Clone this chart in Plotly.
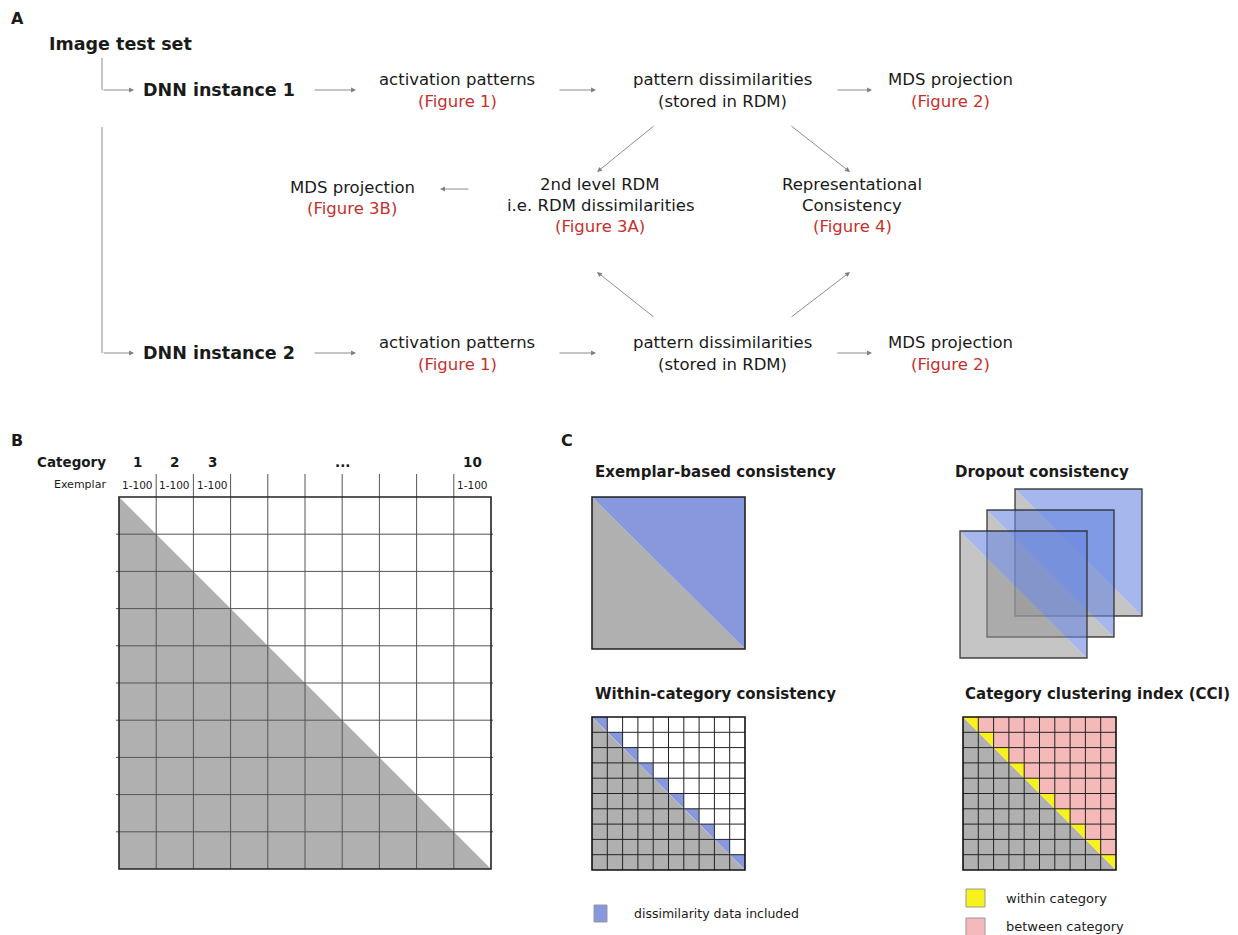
import plotly.graph_objects as go

# ---------------- data / labels ----------------
panel_letters = ["A", "B", "C"]
flow_black = ["activation patterns", "pattern dissimilarities", "MDS projection"]
flow_red = ["(Figure 1)", "(stored in RDM)", "(Figure 2)"]
dnn_labels = ["DNN instance 1", "DNN instance 2"]
mid_left_lines = ["MDS projection", "(Figure 3B)"]
mid_center_lines = ["2nd level RDM", "i.e. RDM dissimilarities", "(Figure 3A)"]
mid_right_lines = ["Representational", "Consistency", "(Figure 4)"]
category_labels = ["1", "2", "3", "...", "10"]
exemplar_labels = ["1-100", "1-100", "1-100", "1-100"]
n_categories = 10
c_titles = ["Exemplar-based consistency", "Dropout consistency",
            "Within-category consistency", "Category clustering index (CCI)"]
legend_labels = ["dissimilarity data included", "within category", "between category"]

# ---------------- styles ----------------
W, H = 1238, 935
BOLD = "DejaVu Sans"
REG = "DejaVu Sans"
RED = "#c4312b"
TXT = "#1a1a1a"
GRAY = "#b0b0b0"
BLUE = "#8799dc"
YELLOW = "#f7f21c"
PINK = "#f6b9b9"
ARROW = "#808080"
FS = 16.5

fig = go.Figure()
fig.add_trace(go.Scatter(x=[0, W], y=[0, H], mode="markers", marker=dict(opacity=0),
                         hoverinfo="skip", showlegend=False))

shapes = []
ann = []


def text(x, y, s, size=FS, color=TXT, bold=False, family=None, xanchor="center"):
    ann.append(dict(x=x, y=y, xref="x", yref="y", text=("<b>%s</b>" % s) if bold else s,
                    showarrow=False, xanchor=xanchor, yanchor="middle",
                    font=dict(size=size, color=color, family=family or (BOLD if bold else REG))))


def arrow(x0, y0, x1, y1):
    ann.append(dict(x=x1, y=y1, ax=x0, ay=y0, xref="x", yref="y", axref="x", ayref="y",
                    text="", showarrow=True, arrowhead=2, arrowsize=1.1, arrowwidth=0.9,
                    arrowcolor=ARROW, standoff=0, startstandoff=0))


def line(x0, y0, x1, y1, color="#444", width=1):
    shapes.append(dict(type="line", x0=x0, y0=y0, x1=x1, y1=y1, xref="x", yref="y",
                       line=dict(color=color, width=width)))


def poly(pts, fill, linecolor=None, width=0, opacity=1.0):
    path = "M " + " L ".join("%s,%s" % p for p in pts) + " Z"
    shapes.append(dict(type="path", path=path, xref="x", yref="y", fillcolor=fill, opacity=opacity,
                       line=dict(width=width, color=linecolor or "rgba(0,0,0,0)")))


def rect(x0, y0, x1, y1, fill="rgba(0,0,0,0)", linecolor="black", width=1.5):
    shapes.append(dict(type="rect", x0=x0, y0=y0, x1=x1, y1=y1, xref="x", yref="y",
                       fillcolor=fill, line=dict(color=linecolor, width=width)))


# ---------------- Panel A ----------------
text(17, 18, panel_letters[0], size=16, bold=True)
text(47, 44, "Image test set", size=17.5, bold=True, xanchor="left")

row_y = [90, 353]
line(102, 58, 102, 90, color=ARROW, width=0.9)
line(102, 127, 102, 353, color=ARROW, width=0.9)
col_x = [457, 722, 950]
for i, y in enumerate(row_y):
    arrow(102, y, 134, y)
    text(141, y, dnn_labels[i], size=17.5, bold=True, xanchor="left")
    arrow(313, y, 356, y)
    arrow(558, y, 596, y)
    arrow(836, y, 872, y)
    for j, cx in enumerate(col_x):
        text(cx, y - 11, flow_black[j], size=FS)
        red = (j != 1)
        text(cx, y + 11, flow_red[j], size=FS, color=RED if red else TXT)

# middle block
text(352, 187, mid_left_lines[0])
text(352, 208, mid_left_lines[1], color=RED)
arrow(470, 189, 440, 189)
for k, s in enumerate(mid_center_lines):
    text(600, 184 + 21 * k, s, color=RED if k == 2 else TXT)
for k, s in enumerate(mid_right_lines):
    text(852, 184 + 21 * k, s, color=RED if k == 2 else TXT)
arrow(655, 125, 597, 172)
arrow(790, 125, 850, 172)
arrow(655, 318, 597, 272)
arrow(790, 318, 850, 272)

# ---------------- Panel B ----------------
text(17, 440, panel_letters[1], size=16, bold=True)
text(108, 462, "Category", size=13.5, bold=True, xanchor="right")
text(108, 484, "Exemplar", size=11, xanchor="right")
bx0, by0, bx1, by1 = 119, 497, 491, 869
cw = (bx1 - bx0) / n_categories
poly([(bx0, by0), (bx0, by1), (bx1, by1)], GRAY)
for i in range(1, n_categories):
    x = bx0 + i * cw
    line(x, 474, x, by1, color="#555", width=1)
    y = by0 + i * cw
    line(bx0 - 3, y, bx1 + 2, y, color="#555", width=1)
rect(bx0, by0, bx1, by1, linecolor="#222", width=1.6)
cat_pos = [0.5, 1.5, 2.5, 6.0, 9.5]
for s, p in zip(category_labels, cat_pos):
    text(bx0 + p * cw, 462, s, size=13.5, bold=True)
for s, p in zip(exemplar_labels, [0.5, 1.5, 2.5, 9.5]):
    text(bx0 + p * cw, 485, s, size=10.5)

# ---------------- Panel C ----------------
text(567, 440, panel_letters[2], size=16, bold=True)
text(593, 472, c_titles[0], size=15, bold=True, xanchor="left")
text(953, 472, c_titles[1], size=15, bold=True, xanchor="left")
text(593, 694, c_titles[2], size=15, bold=True, xanchor="left")
text(963, 694, c_titles[3], size=15, bold=True, xanchor="left")

# exemplar-based
ex0, ey0, ex1, ey1 = 592, 497, 745, 649
poly([(ex0, ey0), (ex0, ey1), (ex1, ey1)], GRAY)
poly([(ex0, ey0), (ex1, ey0), (ex1, ey1)], BLUE)
rect(ex0, ey0, ex1, ey1, linecolor="#222", width=1.6)

# dropout (back to front)
for (dx, dy) in [(1015, 489), (987, 510), (960, 531)]:
    s = 127
    poly([(dx, dy), (dx, dy + s), (dx + s, dy + s)], "rgb(150,150,150)", opacity=0.55)
    poly([(dx, dy), (dx + s, dy), (dx + s, dy + s)], "rgb(105,135,225)", opacity=0.6)
    rect(dx, dy, dx + s, dy + s, linecolor="rgba(40,40,40,0.85)", width=1.4)


def small_grid(gx0, gy0, size, upper_fill, diag_fill):
    c = size / n_categories
    poly([(gx0, gy0), (gx0, gy0 + size), (gx0 + size, gy0 + size)], GRAY)
    poly([(gx0, gy0), (gx0 + size, gy0), (gx0 + size, gy0 + size)], upper_fill)
    for i in range(n_categories):
        x0 = gx0 + i * c
        y0 = gy0 + i * c
        poly([(x0, y0), (x0 + c, y0), (x0 + c, y0 + c)], diag_fill)
    for i in range(1, n_categories):
        line(gx0 + i * c, gy0, gx0 + i * c, gy0 + size, color="#222", width=1)
        line(gx0, gy0 + i * c, gx0 + size, gy0 + i * c, color="#222", width=1)
    rect(gx0, gy0, gx0 + size, gy0 + size, linecolor="#111", width=1.6)


small_grid(592, 717, 153, "white", BLUE)
small_grid(963, 717, 153, PINK, YELLOW)

# legends
rect(594, 905, 607, 922, fill=BLUE, linecolor="#999", width=1)
text(632, 913, legend_labels[0], size=12.5, xanchor="left")
rect(966, 889, 985, 907, fill=YELLOW, linecolor="#999", width=1)
text(1004, 898, legend_labels[1], size=13, xanchor="left")
rect(966, 918, 985, 936, fill=PINK, linecolor="#999", width=1)
text(1004, 926, legend_labels[2], size=13, xanchor="left")

fig.update_layout(
    width=W, height=H, margin=dict(l=0, r=0, t=0, b=0),
    paper_bgcolor="white", plot_bgcolor="white",
    xaxis=dict(range=[0, W], visible=False, fixedrange=True),
    yaxis=dict(range=[H, 0], visible=False, fixedrange=True),
    shapes=shapes, annotations=ann, showlegend=False,
)
fig.write_html("out.html", config={"displayModeBar": False},
               post_script="document.body.style.margin='0';document.body.style.overflow='hidden';")
